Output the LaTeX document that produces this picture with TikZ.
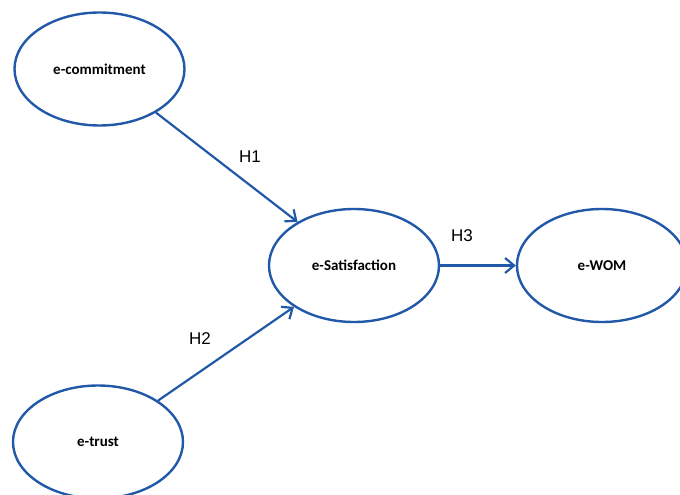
\documentclass[tikz,border=0pt]{standalone}
\usepackage{fontspec}
\setmainfont{Liberation Sans}
\newfontfamily\carl{Carlito}
\usetikzlibrary{shapes.geometric,arrows.meta}
\definecolor{eblue}{HTML}{2159A8}
\tikzset{
  construct/.style={draw=eblue, line width=2.4pt, ellipse, minimum width=170pt, minimum height=113pt, inner sep=0pt, font=\carl\bfseries\fontsize{15}{17}\selectfont},
  path/.style={draw=eblue, line width=2.2pt, -{Straight Barb[length=9pt,width=15pt,line width=2.2pt]}},
  hlabel/.style={font=\fontsize{17}{19}\selectfont}
}
\begin{document}
\begin{tikzpicture}[x=1pt,y=-1pt]
\useasboundingbox (0,0) rectangle (680,495);
\node[construct] (com) at (99.5,69) {e-commitment};
\node[construct] (sat) at (354,265.5) {e-Satisfaction};
\node[construct] (wom) at (602,265.5) {e-WOM};
\node[construct] (tru) at (98,442) {e-trust};
\draw[path] (com) -- (sat);
\draw[path] (tru) -- (sat);
\draw[path] (sat) -- (wom);
\node[hlabel] (h1) at (250,157) {H1};
\node[hlabel] (h2) at (200,339) {H2};
\node[hlabel] (h3) at (462,236) {H3};
\end{tikzpicture}
\end{document}
